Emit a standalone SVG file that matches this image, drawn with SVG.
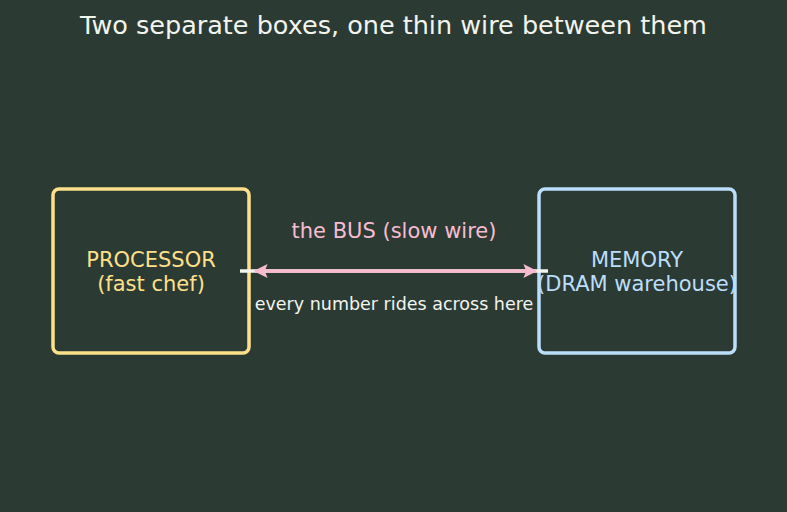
<svg xmlns="http://www.w3.org/2000/svg" width="787" height="512" viewBox="0 0 787 512">
<defs>
<marker id="ah" viewBox="0 0 10 10" refX="9" refY="5" markerWidth="4.5" markerHeight="4" orient="auto-start-reverse">
<path d="M0,0 L10,5 L0,10 L2,5 z" fill="#f8bbd0"/>
</marker>
</defs>
<style>
text{font-family:"DejaVu Sans",sans-serif;text-anchor:middle}
.box{fill:none;stroke-width:3.5}
</style>
<rect width="787" height="512" fill="#2b3b34"/>
<text x="393.5" y="34" font-size="25.5" fill="#f4f4ee">Two separate boxes, one thin wire between them</text>
<g id="processor">
<rect class="box" x="53" y="189" width="196" height="164" rx="6" stroke="#ffe08a"/>
<text x="151" y="267" font-size="21" fill="#ffe08a">PROCESSOR</text>
<text x="151" y="291" font-size="21" fill="#ffe08a">(fast chef)</text>
</g>
<g id="memory">
<rect class="box" x="539" y="189" width="196" height="164" rx="6" stroke="#bbdefb"/>
<text x="637" y="267" font-size="21" fill="#bbdefb">MEMORY</text>
<text x="637" y="291" font-size="21" fill="#bbdefb">(DRAM warehouse)</text>
</g>
<g id="connectors">
<line x1="240" y1="271" x2="548" y2="271" stroke="#f4f4ee" stroke-width="3.5"/>
<line x1="255" y1="271" x2="536" y2="271" stroke="#f8bbd0" stroke-width="3.5" marker-start="url(#ah)" marker-end="url(#ah)"/>
<text x="394" y="238" font-size="21" fill="#f8bbd0">the BUS (slow wire)</text>
<text x="394" y="310" font-size="17.5" fill="#f4f4ee">every number rides across here</text>
</g>
</svg>
